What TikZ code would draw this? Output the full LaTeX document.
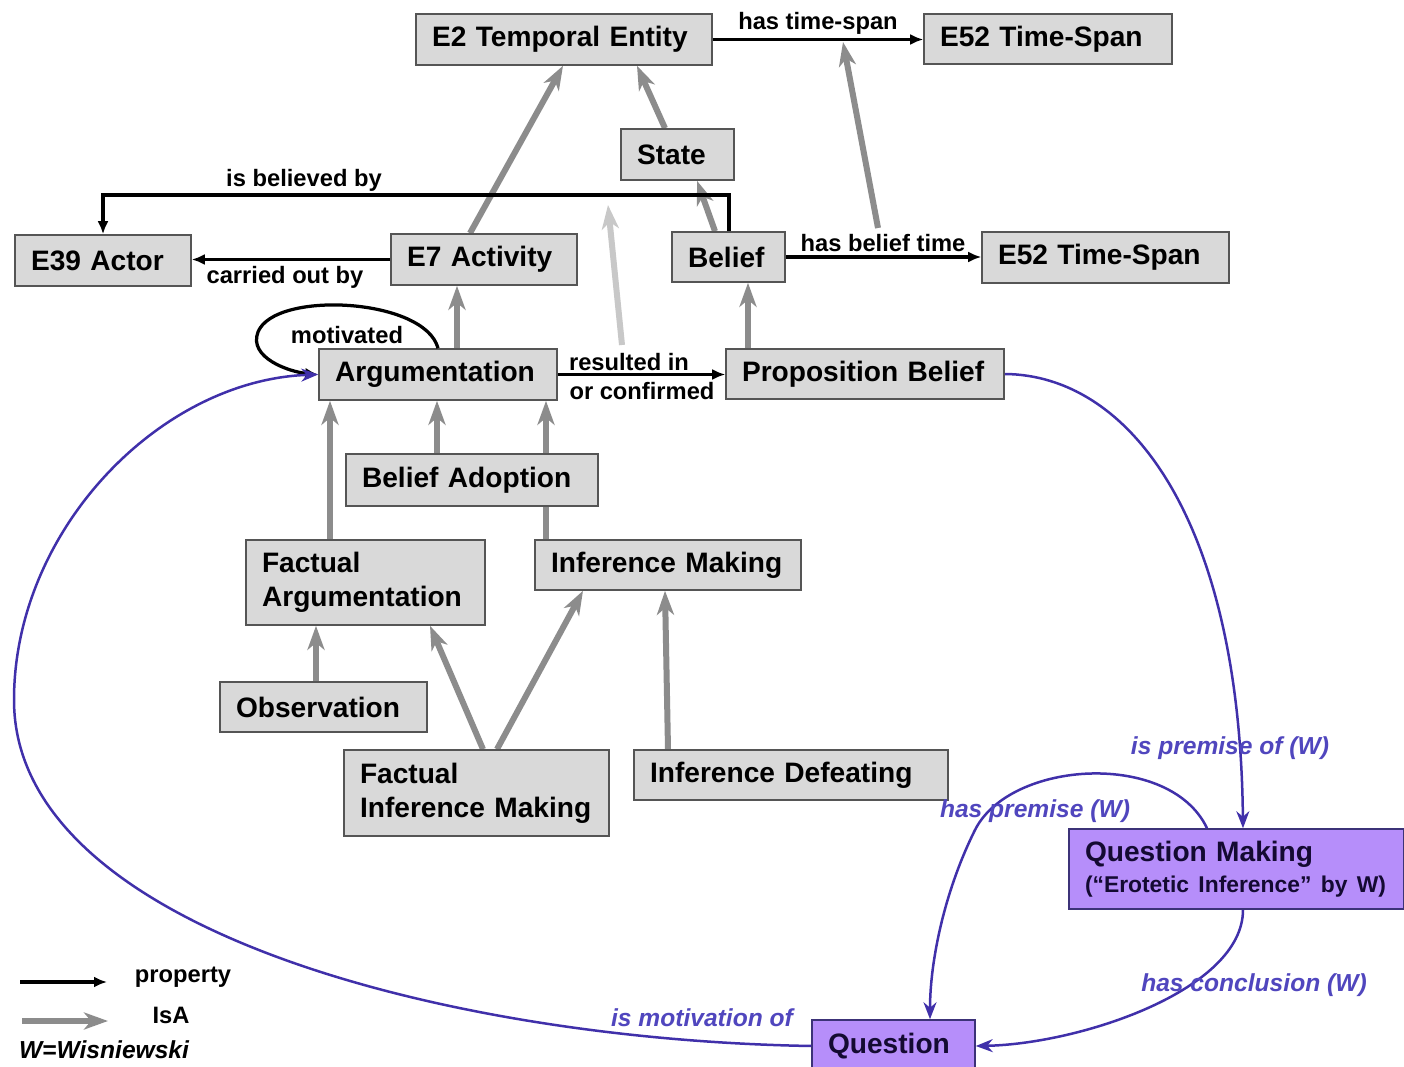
\documentclass[tikz,border=0pt]{standalone}
\usepackage{fontspec}
\setmainfont{Liberation Sans}
\usetikzlibrary{arrows.meta,backgrounds,calc}
\definecolor{boxfill}{RGB}{217,217,217}
\definecolor{boxline}{RGB}{85,85,85}
\definecolor{qfill}{RGB}{182,142,250}
\definecolor{qline}{RGB}{60,50,120}
\definecolor{bluel}{RGB}{64,48,170}
\definecolor{bluet}{RGB}{80,70,190}
\definecolor{isagrey}{RGB}{140,140,140}
\definecolor{lightgrey}{RGB}{200,200,200}
\newcommand\boxfont{\fontsize{16}{19.5}\selectfont\bfseries}
\newcommand\lblfont{\fontsize{13.5}{15}\selectfont\bfseries}
\newcommand\wfont{\fontsize{14}{16}\selectfont\bfseries\itshape}
\begin{document}
\begin{tikzpicture}[x=0.02cm,y=-0.02cm,
  box/.style={draw=boxline, fill=boxfill, line width=0.9pt, inner xsep=0.32cm, inner ysep=0pt, align=left, font=\boxfont, text=black},
  qbox/.style={box, fill=qfill, draw=qline, text={rgb,255:red,20;green,10;blue,50}},
  isa/.style={draw=isagrey, line width=0.12cm, -{Stealth[length=0.48cm,width=0.34cm,inset=0.14cm]}},
  isalight/.style={isa, draw=lightgrey},
  prop/.style={draw=black, line width=0.065cm, -{Latex[length=0.26cm,width=0.22cm]}},
  bprop/.style={draw=bluel, line width=0.05cm, -{Stealth[length=0.34cm,width=0.26cm]}},
  lbl/.style={font=\lblfont, text=black, inner sep=1pt},
  blbl/.style={font=\wfont, text=bluet, inner sep=1pt}]
\useasboundingbox (0,0) rectangle (1404,1067);

% nodes
\node[box, text width=5.28cm, minimum height=1.02cm] (E2) at (564,39.5) {E2 Temporal Entity};
\node[box, text width=4.32cm, minimum height=1.0cm] (E52a) at (1048,39) {E52 Time-Span};
\node[box, text width=1.62cm, minimum height=1.02cm] (State) at (677.5,154.5) {State};
\node[box, text width=2.88cm, minimum height=1.02cm] (E39) at (103,260.5) {E39 Actor};
\node[box, text width=3.08cm, minimum height=1.02cm] (E7) at (484,259.5) {E7 Activity};
\node[box, text width=1.62cm, minimum height=1.0cm] (Belief) at (728.5,257) {Belief};
\node[box, text width=4.30cm, minimum height=1.02cm] (E52b) at (1105.5,257.5) {E52 Time-Span};
\node[box, text width=4.12cm, minimum height=1.02cm] (Arg) at (438,374.5) {Argumentation};
\node[box, text width=4.92cm, minimum height=1.0cm] (PB) at (865,374) {Proposition Belief};
\node[box, text width=4.40cm, minimum height=1.04cm] (BA) at (472,480) {Belief Adoption};
\node[box, text width=4.14cm, minimum height=1.70cm] (FA) at (365.5,582.5) {Factual\\Argumentation};
\node[box, text width=4.68cm, minimum height=1.0cm] (IM) at (668,565) {Inference Making};
\node[box, text width=3.50cm, minimum height=1.0cm] (Obs) at (323.5,707) {Observation};
\node[box, text width=4.66cm, minimum height=1.72cm] (FIM) at (476.5,793) {Factual\\Inference Making};
\node[box, text width=5.64cm, minimum height=1.0cm] (ID) at (791,775) {Inference Defeating};
\node[qbox, text width=6.06cm, minimum height=1.60cm] (QM) at (1236.5,869) {Question Making\\[-2pt]{\fontsize{13}{15}\selectfont (“Erotetic Inference” by W)}};
\node[qbox, text width=2.62cm, minimum height=1.04cm] (Q) at (893.5,1046) {Question};

\begin{pgfonlayer}{background}
\fill[white] (0,0) rectangle (1404,1067);
% IsA arrows
\draw[isa] (470,0 |- E7.north) -- (563,0 |- E2.south);
\draw[isa] (665,0 |- State.north) -- (637,0 |- E2.south);
\draw[isa] (715,0 |- Belief.north) -- (697,0 |- State.south);
\draw[isa] (457,0 |- Arg.north) -- (457,0 |- E7.south);
\draw[isa] (748,0 |- PB.north) -- (748,0 |- Belief.south);
\draw[isa] (437,0 |- BA.north) -- (437,0 |- Arg.south);
\draw[isa] (330,0 |- FA.north) -- (330,0 |- Arg.south);
\draw[isa] (546,0 |- IM.north) -- (546,0 |- Arg.south);
\draw[isa] (316,0 |- Obs.north) -- (316,0 |- FA.south);
\draw[isa] (483,0 |- FIM.north) -- (430,0 |- FA.south);
\draw[isa] (497,0 |- FIM.north) -- (583,0 |- IM.south);
\draw[isa] (668,0 |- ID.north) -- (665,0 |- IM.south);
\end{pgfonlayer}

% property arrows
\draw[prop] (E2.east) -- (E52a.west |- E2.east) node[lbl, midway, above=1pt] {has time-span};
\draw[prop] (729,0 |- Belief.north) |- (103,195) -- (103,0 |- E39.north);
\node[lbl] (lbib) at (304,180) {is believed by};
\draw[prop] (E7.west) -- (E39.east |- E7.west);
\node[lbl] (lcob) at (285,277) {carried out by};
\draw[prop] (Belief.east) -- (E52b.west |- Belief.east);
\node[lbl] (lhbt) at (883,243) {has belief time};
\draw[prop] (Arg.east) -- (PB.west |- Arg.east);
\node[lbl] (lri) at (629,362) {resulted in};
\node[lbl] (loc) at (642,391) {or confirmed};
\draw[prop] (438,0 |- Arg.north) .. controls (425,298) and (275,290) .. (258,332) .. controls (248,358) and (290,372) .. (Arg.west);
\node[lbl] (lmot) at (347,335) {motivated};

% sub-property arrows
\coordinate (hbt) at (878,228);
\coordinate (hts) at (843,42);
\draw[isa] (hbt) -- (hts);
\coordinate (ric) at (622,345);
\coordinate (ibb) at (608,205);
\draw[isalight] (ric) -- (ibb);

% blue arrows
\draw[bprop] (Q.west) .. controls (450,1040) and (14,930) .. (14,700) .. controls (14,530) and (160,380) .. (Arg.west);
\node[blbl] (lmo) at (702,1018) {is motivation of};
\draw[bprop] (PB.east) .. controls (1130,375) and (1240,520) .. (1243,0 |- QM.north);
\node[blbl] (lipo) at (1230,748) {is premise of (W)};
\draw[bprop] (1207,0 |- QM.north) .. controls (1170,750) and (1010,760) .. (975,830) .. controls (945,890) and (930,960) .. (930,0 |- Q.north);
\node[blbl] (lhp) at (1035,811) {has premise (W)};
\draw[bprop] (1243,0 |- QM.south) .. controls (1243,990) and (1080,1044) .. (Q.east);
\node[blbl] (lhc) at (1254,985) {has conclusion (W)};

% legend
\coordinate (lp1) at (20,982);
\coordinate (lp2) at (107,982);
\draw[prop] (lp1) -- (lp2);
\node[lbl] (lprop) at (183,977) {property};
\coordinate (li1) at (22,1021);
\coordinate (li2) at (108,1021);
\draw[isa] (li1) -- (li2);
\node[lbl] (lisa) at (171,1015) {IsA};
\node[font=\wfont, text=black] (lw) at (104,1050) {W=Wisniewski};
\end{tikzpicture}
\end{document}
